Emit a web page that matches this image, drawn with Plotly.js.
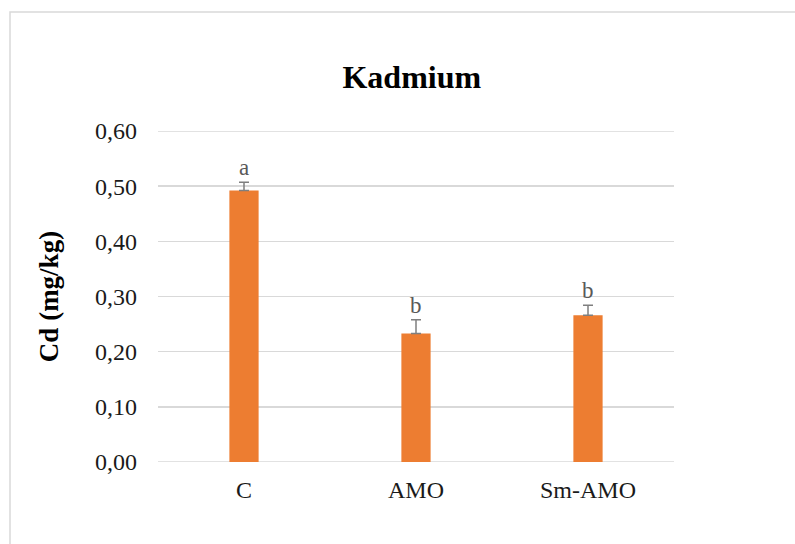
<!DOCTYPE html>
<html><head><meta charset="utf-8">
<script src="https://cdn.plot.ly/plotly-3.0.1.min.js"></script>
<style>html,body{margin:0;padding:0;background:#fff}#chart{width:795px;height:544px}</style>
</head><body><div id="chart"></div>
<script>
var categories = ["C", "AMO", "Sm-AMO"];
var values = [0.492, 0.233, 0.266];
var errors = [0.015, 0.025, 0.018];
var letters = ["a", "b", "b"];
var FONT = "Liberation Serif, Times New Roman, serif";

var trace = {
  type: "bar", x: categories, y: values,
  marker: {color: "#ED7D31"},
  error_y: {type: "data", array: errors, visible: true, symmetric: false, arrayminus: [0,0,0], color: "#7f7f7f", thickness: 1.5, width: 5},
  hoverinfo: "none"
};

var annotations = categories.map(function(c, i){
  return {x: c, y: values[i] + errors[i], xref: "x", yref: "y", text: letters[i], showarrow: false,
    yanchor: "bottom", yshift: 0, font: {family: FONT, size: 23, color: "#595959"}};
});

var layout = {
  width: 795, height: 544,
  margin: {l: 158, r: 121, t: 131, b: 82},
  paper_bgcolor: "#fff", plot_bgcolor: "#fff",
  separators: ",.",
  bargap: 0.83,
  showlegend: false,
  title: {text: "<b>Kadmium</b>", x: 0.518, xanchor: "center", y: 0.858, yanchor: "middle",
    font: {family: FONT, size: 32, color: "#000"}},
  xaxis: {type: "category", showgrid: false, zeroline: false, showline: false, ticks: "", ticklabelstandoff: 11,
    tickfont: {family: FONT, size: 24, color: "#1a1a1a"}},
  yaxis: {range: [0, 0.6], dtick: 0.1, tickformat: ".2f", showgrid: true, gridcolor: "#d9d9d9", gridwidth: 1.5,
    zeroline: false, showline: false, ticks: "", ticklabelstandoff: 20,
    tickfont: {family: FONT, size: 24, color: "#1a1a1a"},
    title: {text: "<b>Cd (mg/kg)</b>", standoff: 28, font: {family: FONT, size: 27, color: "#000"}}},
  annotations: annotations,
  shapes: [{type: "rect", xref: "paper", yref: "paper", x0: (10-158)/516, x1: 1.6, y0: -0.6, y1: (462-12)/331,
    line: {color: "#d9d9d9", width: 1.5}, fillcolor: "rgba(0,0,0,0)", layer: "below"},
    {type: "line", xref: "paper", yref: "y", x0: 0, x1: 1, y0: 0, y1: 0, line: {color: "#d9d9d9", width: 1.5}, layer: "below"},
    {type: "line", xref: "paper", yref: "y", x0: 0, x1: 1, y0: 0.6, y1: 0.6, line: {color: "#d9d9d9", width: 1.5}, layer: "below"}]
};

Plotly.newPlot("chart", [trace], layout, {displayModeBar: false, staticPlot: true});
</script></body></html>
